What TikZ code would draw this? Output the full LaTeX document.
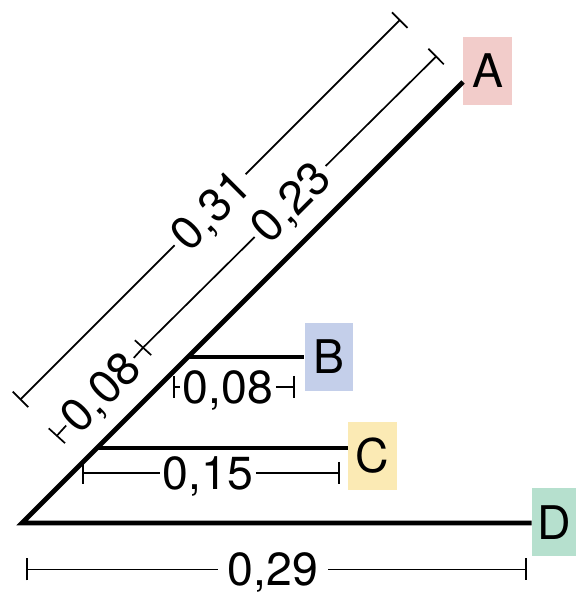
\documentclass[tikz,border=0pt]{standalone}
\usepackage{fontspec}
\setmainfont{TeX Gyre Heros}
\usetikzlibrary{calc,arrows.meta}

\definecolor{leafA}{RGB}{242,204,202}
\definecolor{leafB}{RGB}{196,207,234}
\definecolor{leafC}{RGB}{251,234,180}
\definecolor{leafD}{RGB}{182,224,206}

\begin{document}
\begin{tikzpicture}[
font=\fontsize{33pt}{33pt}\selectfont,
branch/.style={
line width=3.3pt
},
dimline/.style={
line width=1.2pt
},
barstart/.style={arrows={Bar[width=0.55cm]-}},
barend/.style={arrows={-Bar[width=0.55cm]}},
leaf/.style={
rectangle,
inner sep=0pt,
minimum width=1.22cm,
minimum height=1.7cm
},
dimlabel/.style={
inner xsep=0.12cm,
inner ysep=0pt,
text depth=0pt
}
]

\useasboundingbox (0,0) rectangle (14.4,14.875);

% tree
\coordinate (root) at (0.55,1.8);
\coordinate (tipA) at (11.575,12.825);
\coordinate (bB) at (4.7,5.95);
\coordinate (bC) at (2.425,3.675);

\node[leaf, fill=leafA] (A) at (12.1875,13.1) {A};
\node[leaf, fill=leafB] (B) at (8.225,5.95) {B};
\node[leaf, fill=leafC] (C) at (9.3125,3.475) {C};
\node[leaf, fill=leafD, minimum width=1.1cm] (D) at (13.85,1.8125) {D};

\draw[branch] (tipA) -- (root) -- (D.west |- root);
\draw[branch] (bB) -- (B.west |- bB);
\draw[branch] (bC) -- (C.west |- bC);

% branch lengths along the diagonal
\coordinate (out0) at (0.497,4.876);
\coordinate (out1) at (10.0075,14.3865);
\coordinate (in0) at (1.4075,3.9655);
\coordinate (in1) at (3.5905,6.1985);
\coordinate (in2) at (10.918,13.476);

\node[dimlabel, rotate=45] (len31) at ($(out0)!0.5!(out1)$) {0,31};
\node[dimlabel, rotate=45] (len23) at ($(in1)!0.5!(in2)$) {0,23};
\node[dimlabel, rotate=45, inner xsep=0.06cm] (len08a) at ($(in0)!0.5!(in1)$) {0,08};

\draw[dimline, barstart] (out0) -- (len31.west);
\draw[dimline, barend] (len31.east) -- (out1);
\draw[dimline, barstart] (in0) -- (len08a.west);
\draw[dimline, barend] (len08a.east) -- (in1);
\draw[dimline] (in1) -- (len23.west);
\draw[dimline, barend] (len23.east) -- (in2);

% horizontal branch lengths
\coordinate (bl0) at (4.325,5.2);
\coordinate (bl1) at (7.375,5.2);
\coordinate (cl0) at (2.05,3.05);
\coordinate (cl1) at (8.5,3.05);
\coordinate (dl0) at (0.65,0.64);
\coordinate (dl1) at (13.175,0.64);

\node[dimlabel, inner xsep=0.06cm] (len08b) at (5.7,5.2) {0,08};
\node[dimlabel, inner xsep=0.06cm] (len15) at (5.2,3.05) {0,15};
\node[dimlabel, inner xsep=0.25cm] (len29) at (6.825,0.64) {0,29};

\draw[dimline, barstart] (bl0) -- (len08b.west);
\draw[dimline, barend] (len08b.east) -- (bl1);
\draw[dimline, barstart] (cl0) -- (len15.west);
\draw[dimline, barend] (len15.east) -- (cl1);
\draw[dimline, barstart] (dl0) -- (len29.west);
\draw[dimline, barend] (len29.east) -- (dl1);

\end{tikzpicture}
\end{document}
